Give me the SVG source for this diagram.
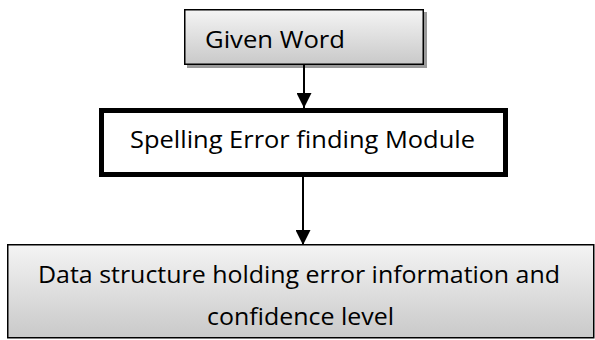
<svg xmlns="http://www.w3.org/2000/svg" width="595" height="340" viewBox="0 0 595 340">
  <defs>
    <linearGradient id="grad" x1="0" y1="0" x2="0" y2="1">
      <stop offset="0" stop-color="#f4f4f4"/>
      <stop offset="1" stop-color="#c9c9c9"/>
    </linearGradient>
    <marker id="arrow" viewBox="0 0 15 15" refX="15" refY="7.5" markerWidth="15" markerHeight="15" markerUnits="userSpaceOnUse" orient="auto">
      <path d="M0,0 L15,7.5 L0,15 Z" fill="#000"/>
    </marker>
  </defs>
  <style>
    .label { font-family: "Open Sans", "Noto Sans", "Liberation Sans", sans-serif; font-size: 24.5px; fill: #000; }
    .shadow { fill: #9a9a9a; }
    .grad { fill: url(#grad); stroke: #000; stroke-width: 1.5; }
    .plain { fill: #fff; stroke: #000; stroke-width: 5; }
    .conn { stroke: #000; stroke-width: 2; fill: none; }
  </style>
  <rect width="595" height="340" fill="#fff"/>
  <g id="given-word">
    <rect class="shadow" x="187" y="12" width="240" height="56"/>
    <rect class="grad" x="184.75" y="9.75" width="238.5" height="54.5"/>
    <text class="label" x="205" y="48" textLength="140" lengthAdjust="spacingAndGlyphs">Given Word</text>
  </g>
  <g id="spelling-module">
    <rect class="plain" x="101.5" y="110.5" width="404" height="64"/>
    <text class="label" x="130" y="148" textLength="345" lengthAdjust="spacingAndGlyphs">Spelling Error finding Module</text>
  </g>
  <g id="data-structure">
    <rect class="grad" x="7.75" y="244.75" width="586" height="93"/>
    <text class="label" x="38" y="283" textLength="522" lengthAdjust="spacingAndGlyphs">Data structure holding error information and</text>
    <text class="label" x="207" y="325" textLength="187" lengthAdjust="spacingAndGlyphs">confidence level</text>
  </g>
  <g id="connectors">
    <line class="conn" x1="304" y1="65" x2="304" y2="108" marker-end="url(#arrow)"/>
    <line class="conn" x1="303" y1="177" x2="303" y2="245" marker-end="url(#arrow)"/>
  </g>
</svg>
